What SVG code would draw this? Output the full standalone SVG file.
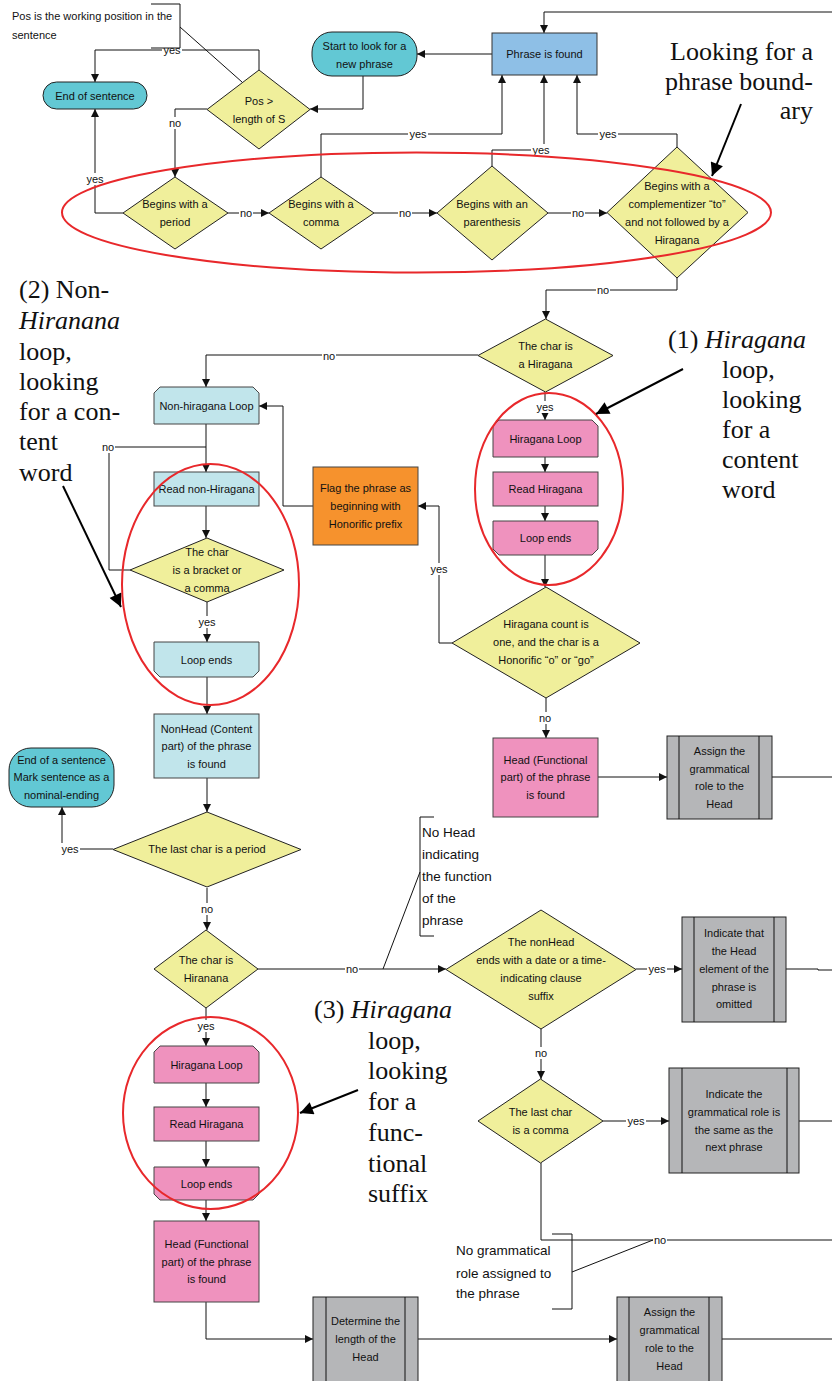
<svg xmlns="http://www.w3.org/2000/svg" width="832" height="1381" viewBox="0 0 832 1381">
<defs>
<style>
.t{font-family:"Liberation Sans",Arial,sans-serif;font-size:11px;fill:#111;text-anchor:middle}
.tl{font-family:"Liberation Sans",Arial,sans-serif;font-size:11px;fill:#111}
.an{font-family:"Liberation Sans",Arial,sans-serif;font-size:13.5px;fill:#111}
.lb{font-family:"Liberation Sans",Arial,sans-serif;font-size:11px;fill:#111;text-anchor:middle}
.lbg{fill:#fff}
.big{font-family:"Liberation Serif","Times New Roman",serif;font-size:26px;fill:#111}
.c{fill:none;stroke:#111;stroke-width:1}
.ca{fill:none;stroke:#111;stroke-width:1;marker-end:url(#ah)}
.ba{fill:none;stroke:#000;stroke-width:2;marker-end:url(#bah)}
.dia{fill:#f0ef9b;stroke:#222;stroke-width:1}
.term{fill:#62c8d4;stroke:#222;stroke-width:1}
.blue{fill:#8ebfe6;stroke:#333;stroke-width:1}
.cy{fill:#c1e5eb;stroke:#444;stroke-width:1}
.pk{fill:#ef92be;stroke:#444;stroke-width:1}
.or{fill:#f6922d;stroke:#444;stroke-width:1}
.gr{fill:#b5b6b8;stroke:#222;stroke-width:1}
.red{fill:none;stroke:#e8282b;stroke-width:2}
</style>
<marker id="ah" viewBox="0 0 10 10" refX="10" refY="5" markerWidth="8" markerHeight="8" markerUnits="userSpaceOnUse" orient="auto"><path d="M0,0 L10,5 L0,10 z" fill="#111"/></marker>
<marker id="bah" viewBox="0 0 10 10" refX="10" refY="5" markerWidth="16" markerHeight="13" markerUnits="userSpaceOnUse" orient="auto"><path d="M0,0 L10,5 L0,10 z" fill="#000"/></marker>
</defs>
<rect width="832" height="1381" fill="#fff"/>

<g id="connectors">
<path class="ca" d="M832,12 H544 V33"/>
<path class="ca" d="M492,54 H417"/>
<path class="ca" d="M363,76 V109 H310"/>
<path class="ca" d="M259,70 V50 H95 V82"/>
<path class="ca" d="M207,109 H175 V177"/>
<path class="ca" d="M123,213 H95 V109"/>
<path class="ca" d="M228,213 H269"/>
<path class="ca" d="M321,177 V134 H502 V75"/>
<path class="ca" d="M374,213 H437"/>
<path class="ca" d="M492,166 V150 H544 V75"/>
<path class="ca" d="M548,213 H607"/>
<path class="ca" d="M677,147 V134 H577 V75"/>
<path class="ca" d="M677,278 V290 H546 V319"/>
<path class="ca" d="M478,355 H206 V387"/>
<path class="ca" d="M545,392 V420"/>
<path class="ca" d="M206,424 V472"/>
<path class="ca" d="M206,506 V538"/>
<path class="c" d="M130,570 H109 V447 H206"/>
<path class="ca" d="M207,602 V642"/>
<path class="ca" d="M207,677 V714"/>
<path class="ca" d="M207,778 V812"/>
<path class="ca" d="M113,849 H62 V807"/>
<path class="ca" d="M207,888 V930"/>
<path class="ca" d="M258,969 H446"/>
<path class="ca" d="M206,1008 V1046"/>
<path class="ca" d="M206,1083 V1107"/>
<path class="ca" d="M206,1141 V1167"/>
<path class="ca" d="M206,1200 V1221"/>
<path class="ca" d="M206,1302 V1339 H313"/>
<path class="ca" d="M418,1339 H617"/>
<path class="c" d="M722,1339 H832"/>
<path class="ca" d="M636,969 H682"/>
<path class="c" d="M786,969 H818 V970 H832"/>
<path class="ca" d="M541,1029 V1079"/>
<path class="ca" d="M603,1121 H669"/>
<path class="c" d="M799,1121 H832"/>
<path class="c" d="M541,1163 V1240 H832"/>
<path class="ca" d="M545,457 V472"/>
<path class="ca" d="M545,506 V521"/>
<path class="ca" d="M545,555 V587"/>
<path class="ca" d="M452,643 H439 V506 H418"/>
<path class="ca" d="M313,506 H283 V406 H259"/>
<path class="ca" d="M546,698 V738"/>
<path class="ca" d="M598,777 H667"/>
<path class="c" d="M772,777 H832"/>
<g id="label-bg">
<rect class="lbg" x="162" y="44" width="20" height="12"/>
<rect class="lbg" x="168" y="117" width="14" height="12"/>
<rect class="lbg" x="85" y="173" width="20" height="12"/>
<rect class="lbg" x="239" y="207" width="14" height="12"/>
<rect class="lbg" x="408" y="128" width="20" height="12"/>
<rect class="lbg" x="398" y="207" width="14" height="12"/>
<rect class="lbg" x="531" y="144" width="20" height="12"/>
<rect class="lbg" x="571" y="207" width="14" height="12"/>
<rect class="lbg" x="598" y="128" width="20" height="12"/>
<rect class="lbg" x="596" y="284" width="14" height="12"/>
<rect class="lbg" x="322" y="350" width="14" height="12"/>
<rect class="lbg" x="535" y="401" width="20" height="12"/>
<rect class="lbg" x="101" y="441" width="14" height="12"/>
<rect class="lbg" x="197" y="616" width="20" height="12"/>
<rect class="lbg" x="60" y="843" width="20" height="12"/>
<rect class="lbg" x="200" y="903" width="14" height="12"/>
<rect class="lbg" x="345" y="963" width="14" height="12"/>
<rect class="lbg" x="196" y="1020" width="20" height="12"/>
<rect class="lbg" x="647" y="963" width="20" height="12"/>
<rect class="lbg" x="534" y="1047" width="14" height="12"/>
<rect class="lbg" x="626" y="1115" width="20" height="12"/>
<rect class="lbg" x="653" y="1234" width="14" height="12"/>
<rect class="lbg" x="429" y="563" width="20" height="12"/>
<rect class="lbg" x="538" y="712" width="14" height="12"/>
</g>
<text class="lb" x="172" y="54">yes</text>
<text class="lb" x="175" y="127">no</text>
<text class="lb" x="95" y="183">yes</text>
<text class="lb" x="246" y="217">no</text>
<text class="lb" x="418" y="138">yes</text>
<text class="lb" x="405" y="217">no</text>
<text class="lb" x="541" y="154">yes</text>
<text class="lb" x="578" y="217">no</text>
<text class="lb" x="608" y="138">yes</text>
<text class="lb" x="603" y="294">no</text>
<text class="lb" x="329" y="360">no</text>
<text class="lb" x="545" y="411">yes</text>
<text class="lb" x="108" y="451">no</text>
<text class="lb" x="207" y="626">yes</text>
<text class="lb" x="70" y="853">yes</text>
<text class="lb" x="207" y="913">no</text>
<text class="lb" x="352" y="973">no</text>
<text class="lb" x="206" y="1030">yes</text>
<text class="lb" x="657" y="973">yes</text>
<text class="lb" x="541" y="1057">no</text>
<text class="lb" x="636" y="1125">yes</text>
<text class="lb" x="660" y="1244">no</text>
<text class="lb" x="439" y="573">yes</text>
<text class="lb" x="545" y="722">no</text>
</g>

<g id="end-of-sentence"><rect class="term" x="43" y="82" width="104" height="27" rx="13.5"/><text class="t" x="95" y="99.5">End of sentence</text></g>
<g id="pos-check"><path class="dia" d="M259,70 L310,109.5 L259,149 L207,109.5 Z"/><text class="t" x="259" y="104.5">Pos &gt;</text><text class="t" x="259" y="122.5">length of S</text></g>
<g id="start"><rect class="term" x="312" y="32" width="105" height="44" rx="20"/><text class="t" x="364.5" y="50">Start to look for a</text><text class="t" x="364.5" y="68">new phrase</text></g>
<g id="phrase-found"><rect class="blue" x="492" y="33" width="105" height="42"/><text class="t" x="544.5" y="58">Phrase is found</text></g>

<g id="begins-period"><path class="dia" d="M175,177 L228,213 L175,249 L123,213 Z"/><text class="t" x="175" y="208">Begins with a</text><text class="t" x="175" y="226">period</text></g>
<g id="begins-comma"><path class="dia" d="M321,177 L374,213 L321,249 L269,213 Z"/><text class="t" x="321" y="208">Begins with a</text><text class="t" x="321" y="226">comma</text></g>
<g id="begins-paren"><path class="dia" d="M492,166 L548,213 L492,260 L437,213 Z"/><text class="t" x="492" y="208">Begins with an</text><text class="t" x="492" y="226">parenthesis</text></g>
<g id="begins-to"><path class="dia" d="M677,147 L748,212.5 L677,278 L607,212.5 Z"/><text class="t" x="677" y="190">Begins with a</text><text class="t" x="677" y="208">complementizer “to”</text><text class="t" x="677" y="226">and not followed by a</text><text class="t" x="677" y="244">Hiragana</text></g>

<g id="char-hiragana"><path class="dia" d="M545.5,319 L613,355.5 L545.5,392 L478,355.5 Z"/><text class="t" x="545.5" y="350">The char is</text><text class="t" x="545.5" y="368">a Hiragana</text></g>

<g id="nonhira-loop"><path class="cy" d="M154,393 L160,387 H253 L259,393 V424 H154 Z"/><text class="t" x="206.5" y="409.5">Non-hiragana Loop</text></g>
<g id="read-nonhira"><rect class="cy" x="154" y="472" width="105" height="34"/><text class="t" x="206.5" y="493">Read non-Hiragana</text></g>
<g id="bracket-comma"><path class="dia" d="M207,538 L284,570 L207,602 L130,570 Z"/><text class="t" x="207" y="556">The char</text><text class="t" x="207" y="574">is a bracket  or</text><text class="t" x="207" y="592">a comma</text></g>
<g id="loop-ends-cy"><path class="cy" d="M154,642 H259 V671 L253,677 H160 L154,671 Z"/><text class="t" x="206.5" y="663.5">Loop ends</text></g>
<g id="nonhead-found"><rect class="cy" x="154" y="714" width="105" height="64"/><text class="t" x="206.5" y="732.5">NonHead (Content</text><text class="t" x="206.5" y="750">part) of the phrase</text><text class="t" x="206.5" y="767.5">is found</text></g>
<g id="end-nominal"><rect class="term" x="9" y="748" width="105" height="59" rx="22"/><text class="t" x="61.5" y="764">End of a sentence</text><text class="t" x="61.5" y="781">Mark sentence as a</text><text class="t" x="61.5" y="799">nominal-ending</text></g>
<g id="last-period"><path class="dia" d="M207,812 L301,849.5 L207,887 L113,849.5 Z"/><text class="t" x="207" y="853">The  last char is a period</text></g>
<g id="char-hiranana"><path class="dia" d="M206,930 L258,969 L206,1008 L154,969 Z"/><text class="t" x="206" y="964">The char is</text><text class="t" x="206" y="982">Hiranana</text></g>

<g id="hira-loop-3"><path class="pk" d="M154,1052 L160,1046 H253 L259,1052 V1083 H154 Z"/><text class="t" x="206.5" y="1068.5">Hiragana Loop</text></g>
<g id="read-hira-3"><rect class="pk" x="154" y="1107" width="105" height="34"/><text class="t" x="206.5" y="1128">Read Hiragana</text></g>
<g id="loop-ends-3"><path class="pk" d="M154,1167 H259 V1194 L253,1200 H160 L154,1194 Z"/><text class="t" x="206.5" y="1187.5">Loop ends</text></g>
<g id="head-found-3"><rect class="pk" x="154" y="1221" width="105" height="81"/><text class="t" x="206.5" y="1248">Head (Functional</text><text class="t" x="206.5" y="1266">part) of the phrase</text><text class="t" x="206.5" y="1283">is found</text></g>
<g id="determine-length"><rect class="gr" x="313" y="1297" width="105" height="90"/><path class="c" d="M326,1297 V1387 M405,1297 V1387"/><text class="t" x="365.5" y="1325">Determine the</text><text class="t" x="365.5" y="1343">length of the</text><text class="t" x="365.5" y="1361">Head</text></g>
<g id="assign-role-3"><rect class="gr" x="617" y="1297" width="105" height="90"/><path class="c" d="M629,1297 V1387 M709,1297 V1387"/><text class="t" x="669.5" y="1316">Assign the</text><text class="t" x="669.5" y="1334">grammatical</text><text class="t" x="669.5" y="1352">role to the</text><text class="t" x="669.5" y="1370">Head</text></g>

<g id="hira-loop-1"><path class="pk" d="M493,426 L499,420 H592 L598,426 V457 H493 Z"/><text class="t" x="545.5" y="442.5">Hiragana Loop</text></g>
<g id="read-hira-1"><rect class="pk" x="493" y="472" width="105" height="34"/><text class="t" x="545.5" y="493">Read Hiragana</text></g>
<g id="loop-ends-1"><path class="pk" d="M493,521 H598 V549 L592,555 H499 L493,549 Z"/><text class="t" x="545.5" y="542">Loop ends</text></g>
<g id="hira-count"><path class="dia" d="M546,587 L640,643 L546,698 L452,643 Z"/><text class="t" x="546" y="628">Hiragana count is</text><text class="t" x="546" y="646">one, and the char is a</text><text class="t" x="546" y="664">Honorific “o” or “go”</text></g>
<g id="flag-honorific"><rect class="or" x="313" y="467" width="105" height="78"/><text class="t" x="365.5" y="492">Flag the phrase as</text><text class="t" x="365.5" y="510">beginning with</text><text class="t" x="365.5" y="528">Honorific prefix</text></g>
<g id="head-found-1"><rect class="pk" x="493" y="738" width="105" height="79"/><text class="t" x="545.5" y="764">Head (Functional</text><text class="t" x="545.5" y="781">part) of the phrase</text><text class="t" x="545.5" y="799">is found</text></g>
<g id="assign-role-1"><rect class="gr" x="667" y="736" width="105" height="83"/><path class="c" d="M679,736 V819 M759,736 V819"/><text class="t" x="719.5" y="755">Assign the</text><text class="t" x="719.5" y="773">grammatical</text><text class="t" x="719.5" y="790">role to the</text><text class="t" x="719.5" y="808">Head</text></g>

<g id="nonhead-date"><path class="dia" d="M541,910 L636,969.5 L541,1029 L446,969.5 Z"/><text class="t" x="541" y="946">The nonHead</text><text class="t" x="541" y="964">ends with a date or a time-</text><text class="t" x="541" y="982">indicating clause</text><text class="t" x="541" y="1000">suffix</text></g>
<g id="head-omitted"><rect class="gr" x="682" y="917" width="104" height="105"/><path class="c" d="M694,917 V1022 M774,917 V1022"/><text class="t" x="734" y="937">Indicate that</text><text class="t" x="734" y="955">the Head</text><text class="t" x="734" y="973">element of the</text><text class="t" x="734" y="991">phrase is</text><text class="t" x="734" y="1008">omitted</text></g>
<g id="last-comma"><path class="dia" d="M540.5,1079 L603,1121 L540.5,1163 L478,1121 Z"/><text class="t" x="540.5" y="1116">The  last char</text><text class="t" x="540.5" y="1134">is a comma</text></g>
<g id="same-as-next"><rect class="gr" x="669" y="1068" width="130" height="105"/><path class="c" d="M682,1068 V1173 M787,1068 V1173"/><text class="t" x="734" y="1098">Indicate the</text><text class="t" x="734" y="1116">grammatical role is</text><text class="t" x="734" y="1134">the same as the</text><text class="t" x="734" y="1151">next phrase</text></g>

<g id="note-pos"><path class="c" d="M151,4 H180 V48 H151 M180,27 L242,82"/><text class="tl" x="12" y="20">Pos is the working position in the</text><text class="tl" x="12" y="39">sentence</text></g>
<g id="note-nohead"><path class="c" d="M434,817 H420 V936 H434 M420,872 L383,969"/><text class="an" x="422" y="837">No Head</text><text class="an" x="422" y="859">indicating</text><text class="an" x="422" y="881">the function</text><text class="an" x="422" y="903">of the</text><text class="an" x="422" y="925">phrase</text></g>
<g id="note-norole"><path class="c" d="M552,1234 H572 V1309 H552 M572,1272 L653,1240"/><text class="an" x="456" y="1255">No grammatical</text><text class="an" x="456" y="1278">role assigned to</text><text class="an" x="456" y="1298">the phrase</text></g>

<g id="red-ellipses">
<ellipse class="red" cx="416.5" cy="212.5" rx="354.5" ry="60"/>
<ellipse class="red" cx="210.5" cy="584.5" rx="88.5" ry="120.5"/>
<ellipse class="red" cx="549" cy="489" rx="74" ry="96"/>
<ellipse class="red" cx="210.5" cy="1113" rx="87.5" ry="96"/>
</g>

<g id="callouts">
<text class="big" x="813" y="60" text-anchor="end">Looking for a</text>
<text class="big" x="813" y="90" text-anchor="end">phrase bound-</text>
<text class="big" x="813" y="119" text-anchor="end">ary</text>
<path class="ba" d="M741,104 L712,176"/>
<text class="big" x="668" y="348">(1) <tspan font-style="italic">Hiragana</tspan></text>
<text class="big" x="722" y="378">loop,</text>
<text class="big" x="722" y="408">looking</text>
<text class="big" x="722" y="438">for a</text>
<text class="big" x="722" y="468">content</text>
<text class="big" x="722" y="498">word</text>
<path class="ba" d="M683,369 L596,414"/>
<text class="big" x="19" y="298">(2) Non-</text>
<text class="big" x="19" y="329" font-style="italic">Hiranana</text>
<text class="big" x="19" y="360">loop,</text>
<text class="big" x="19" y="390">looking</text>
<text class="big" x="19" y="420">for a con-</text>
<text class="big" x="19" y="450">tent</text>
<text class="big" x="19" y="481">word</text>
<path class="ba" d="M63,486 L121,607"/>
<text class="big" x="314" y="1018">(3) <tspan font-style="italic">Hiragana</tspan></text>
<text class="big" x="368" y="1049">loop,</text>
<text class="big" x="368" y="1079">looking</text>
<text class="big" x="368" y="1110">for a</text>
<text class="big" x="368" y="1141">func-</text>
<text class="big" x="368" y="1172">tional</text>
<text class="big" x="368" y="1202">suffix</text>
<path class="ba" d="M358,1090 L300,1113"/>
</g>
</svg>
